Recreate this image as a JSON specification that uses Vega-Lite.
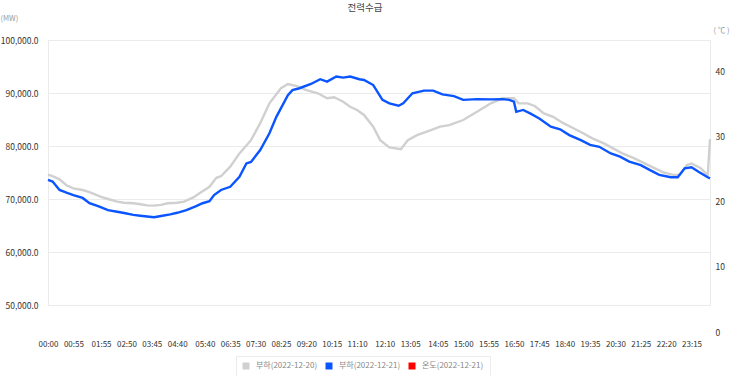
{
  "$schema": "https://vega.github.io/schema/vega-lite/v6.json",
  "width": 662,
  "height": 265,
  "autosize": "none",
  "padding": {"left": 48, "top": 40, "right": 20, "bottom": 71},
  "background": "#ffffff",
  "config": {
    "font": "Noto Sans CJK KR",
    "view": {"stroke": "#ebebeb", "strokeWidth": 1},
    "axis": {"labelFont": "Noto Sans CJK KR", "titleFont": "Noto Sans CJK KR"}
  },
  "title": {"text": "전력수급", "anchor": "middle", "frame": "group", "dx": -14, "offset": 1.5, "fontSize": 9.5, "fontWeight": "normal", "color": "#444444"},
  "datasets": {
    "load": [
      {"s": "부하(2022-12-20)", "m": 0, "load": 74600}, {"s": "부하(2022-12-20)", "m": 10, "load": 74300}, {"s": "부하(2022-12-20)", "m": 25, "load": 73700}, {"s": "부하(2022-12-20)", "m": 40, "load": 72600},
      {"s": "부하(2022-12-20)", "m": 55, "load": 72000}, {"s": "부하(2022-12-20)", "m": 75, "load": 71700}, {"s": "부하(2022-12-20)", "m": 90, "load": 71300}, {"s": "부하(2022-12-20)", "m": 115, "load": 70400},
      {"s": "부하(2022-12-20)", "m": 130, "load": 70000}, {"s": "부하(2022-12-20)", "m": 150, "load": 69500}, {"s": "부하(2022-12-20)", "m": 165, "load": 69300}, {"s": "부하(2022-12-20)", "m": 185, "load": 69200},
      {"s": "부하(2022-12-20)", "m": 200, "load": 69000}, {"s": "부하(2022-12-20)", "m": 215, "load": 68800}, {"s": "부하(2022-12-20)", "m": 230, "load": 68750}, {"s": "부하(2022-12-20)", "m": 245, "load": 68900},
      {"s": "부하(2022-12-20)", "m": 260, "load": 69200}, {"s": "부하(2022-12-20)", "m": 280, "load": 69300}, {"s": "부하(2022-12-20)", "m": 295, "load": 69500}, {"s": "부하(2022-12-20)", "m": 315, "load": 70300},
      {"s": "부하(2022-12-20)", "m": 330, "load": 71200}, {"s": "부하(2022-12-20)", "m": 350, "load": 72300}, {"s": "부하(2022-12-20)", "m": 365, "load": 74000}, {"s": "부하(2022-12-20)", "m": 375, "load": 74300},
      {"s": "부하(2022-12-20)", "m": 395, "load": 76100}, {"s": "부하(2022-12-20)", "m": 415, "load": 78600}, {"s": "부하(2022-12-20)", "m": 440, "load": 81100}, {"s": "부하(2022-12-20)", "m": 460, "load": 84300},
      {"s": "부하(2022-12-20)", "m": 480, "load": 88050}, {"s": "부하(2022-12-20)", "m": 505, "load": 90900}, {"s": "부하(2022-12-20)", "m": 520, "load": 91700}, {"s": "부하(2022-12-20)", "m": 540, "load": 91300},
      {"s": "부하(2022-12-20)", "m": 560, "load": 90550}, {"s": "부하(2022-12-20)", "m": 585, "load": 89950}, {"s": "부하(2022-12-20)", "m": 605, "load": 89000}, {"s": "부하(2022-12-20)", "m": 620, "load": 89200},
      {"s": "부하(2022-12-20)", "m": 640, "load": 88350}, {"s": "부하(2022-12-20)", "m": 655, "load": 87400}, {"s": "부하(2022-12-20)", "m": 670, "load": 86800}, {"s": "부하(2022-12-20)", "m": 685, "load": 85850},
      {"s": "부하(2022-12-20)", "m": 705, "load": 83650}, {"s": "부하(2022-12-20)", "m": 720, "load": 81100}, {"s": "부하(2022-12-20)", "m": 740, "load": 79750}, {"s": "부하(2022-12-20)", "m": 765, "load": 79400},
      {"s": "부하(2022-12-20)", "m": 780, "load": 81100}, {"s": "부하(2022-12-20)", "m": 800, "load": 82050}, {"s": "부하(2022-12-20)", "m": 830, "load": 83000}, {"s": "부하(2022-12-20)", "m": 850, "load": 83650},
      {"s": "부하(2022-12-20)", "m": 870, "load": 83950}, {"s": "부하(2022-12-20)", "m": 900, "load": 84900}, {"s": "부하(2022-12-20)", "m": 930, "load": 86450}, {"s": "부하(2022-12-20)", "m": 960, "load": 88050},
      {"s": "부하(2022-12-20)", "m": 985, "load": 89000}, {"s": "부하(2022-12-20)", "m": 1010, "load": 89000}, {"s": "부하(2022-12-20)", "m": 1020, "load": 88050}, {"s": "부하(2022-12-20)", "m": 1040, "load": 88050},
      {"s": "부하(2022-12-20)", "m": 1055, "load": 87550}, {"s": "부하(2022-12-20)", "m": 1075, "load": 86150}, {"s": "부하(2022-12-20)", "m": 1095, "load": 85500}, {"s": "부하(2022-12-20)", "m": 1115, "load": 84400},
      {"s": "부하(2022-12-20)", "m": 1140, "load": 83300}, {"s": "부하(2022-12-20)", "m": 1160, "load": 82400}, {"s": "부하(2022-12-20)", "m": 1180, "load": 81450}, {"s": "부하(2022-12-20)", "m": 1205, "load": 80500},
      {"s": "부하(2022-12-20)", "m": 1225, "load": 79550}, {"s": "부하(2022-12-20)", "m": 1245, "load": 78600}, {"s": "부하(2022-12-20)", "m": 1270, "load": 77700}, {"s": "부하(2022-12-20)", "m": 1290, "load": 76850},
      {"s": "부하(2022-12-20)", "m": 1310, "load": 76000}, {"s": "부하(2022-12-20)", "m": 1335, "load": 75000}, {"s": "부하(2022-12-20)", "m": 1355, "load": 74550}, {"s": "부하(2022-12-20)", "m": 1370, "load": 74550},
      {"s": "부하(2022-12-20)", "m": 1385, "load": 76400}, {"s": "부하(2022-12-20)", "m": 1395, "load": 76700}, {"s": "부하(2022-12-20)", "m": 1415, "load": 75800}, {"s": "부하(2022-12-20)", "m": 1430, "load": 74400},
      {"s": "부하(2022-12-20)", "m": 1435, "load": 81300},
      {"s": "부하(2022-12-21)", "m": 0, "load": 73600}, {"s": "부하(2022-12-21)", "m": 10, "load": 73300}, {"s": "부하(2022-12-21)", "m": 25, "load": 71700}, {"s": "부하(2022-12-21)", "m": 40, "load": 71200},
      {"s": "부하(2022-12-21)", "m": 55, "load": 70750}, {"s": "부하(2022-12-21)", "m": 75, "load": 70200}, {"s": "부하(2022-12-21)", "m": 90, "load": 69200}, {"s": "부하(2022-12-21)", "m": 110, "load": 68600},
      {"s": "부하(2022-12-21)", "m": 130, "load": 67900}, {"s": "부하(2022-12-21)", "m": 150, "load": 67600}, {"s": "부하(2022-12-21)", "m": 165, "load": 67350}, {"s": "부하(2022-12-21)", "m": 185, "load": 67000},
      {"s": "부하(2022-12-21)", "m": 200, "load": 66850}, {"s": "부하(2022-12-21)", "m": 215, "load": 66700}, {"s": "부하(2022-12-21)", "m": 230, "load": 66550}, {"s": "부하(2022-12-21)", "m": 245, "load": 66800},
      {"s": "부하(2022-12-21)", "m": 265, "load": 67100}, {"s": "부하(2022-12-21)", "m": 280, "load": 67400}, {"s": "부하(2022-12-21)", "m": 300, "load": 67900}, {"s": "부하(2022-12-21)", "m": 320, "load": 68600},
      {"s": "부하(2022-12-21)", "m": 335, "load": 69200}, {"s": "부하(2022-12-21)", "m": 350, "load": 69600}, {"s": "부하(2022-12-21)", "m": 360, "load": 70750}, {"s": "부하(2022-12-21)", "m": 375, "load": 71700},
      {"s": "부하(2022-12-21)", "m": 395, "load": 72300}, {"s": "부하(2022-12-21)", "m": 415, "load": 74200}, {"s": "부하(2022-12-21)", "m": 430, "load": 76700}, {"s": "부하(2022-12-21)", "m": 440, "load": 77000},
      {"s": "부하(2022-12-21)", "m": 460, "load": 79250}, {"s": "부하(2022-12-21)", "m": 480, "load": 82400}, {"s": "부하(2022-12-21)", "m": 495, "load": 85500}, {"s": "부하(2022-12-21)", "m": 520, "load": 89600},
      {"s": "부하(2022-12-21)", "m": 530, "load": 90550}, {"s": "부하(2022-12-21)", "m": 545, "load": 90900}, {"s": "부하(2022-12-21)", "m": 570, "load": 91700}, {"s": "부하(2022-12-21)", "m": 590, "load": 92600},
      {"s": "부하(2022-12-21)", "m": 605, "load": 92150}, {"s": "부하(2022-12-21)", "m": 625, "load": 93100}, {"s": "부하(2022-12-21)", "m": 640, "load": 92900}, {"s": "부하(2022-12-21)", "m": 655, "load": 93100},
      {"s": "부하(2022-12-21)", "m": 675, "load": 92600}, {"s": "부하(2022-12-21)", "m": 685, "load": 92450}, {"s": "부하(2022-12-21)", "m": 705, "load": 91500}, {"s": "부하(2022-12-21)", "m": 725, "load": 88700},
      {"s": "부하(2022-12-21)", "m": 740, "load": 88050}, {"s": "부하(2022-12-21)", "m": 760, "load": 87600}, {"s": "부하(2022-12-21)", "m": 770, "load": 88050}, {"s": "부하(2022-12-21)", "m": 790, "load": 89950},
      {"s": "부하(2022-12-21)", "m": 815, "load": 90450}, {"s": "부하(2022-12-21)", "m": 835, "load": 90450}, {"s": "부하(2022-12-21)", "m": 855, "load": 89750}, {"s": "부하(2022-12-21)", "m": 880, "load": 89400},
      {"s": "부하(2022-12-21)", "m": 900, "load": 88700}, {"s": "부하(2022-12-21)", "m": 930, "load": 88850}, {"s": "부하(2022-12-21)", "m": 960, "load": 88800}, {"s": "부하(2022-12-21)", "m": 985, "load": 88850},
      {"s": "부하(2022-12-21)", "m": 1000, "load": 88700}, {"s": "부하(2022-12-21)", "m": 1010, "load": 88350}, {"s": "부하(2022-12-21)", "m": 1015, "load": 86450}, {"s": "부하(2022-12-21)", "m": 1030, "load": 86800},
      {"s": "부하(2022-12-21)", "m": 1045, "load": 86150}, {"s": "부하(2022-12-21)", "m": 1065, "load": 85200}, {"s": "부하(2022-12-21)", "m": 1090, "load": 83650}, {"s": "부하(2022-12-21)", "m": 1110, "load": 83150},
      {"s": "부하(2022-12-21)", "m": 1130, "load": 82050}, {"s": "부하(2022-12-21)", "m": 1155, "load": 81100}, {"s": "부하(2022-12-21)", "m": 1175, "load": 80200}, {"s": "부하(2022-12-21)", "m": 1195, "load": 79850},
      {"s": "부하(2022-12-21)", "m": 1220, "load": 78600}, {"s": "부하(2022-12-21)", "m": 1240, "load": 78000}, {"s": "부하(2022-12-21)", "m": 1260, "load": 77050}, {"s": "부하(2022-12-21)", "m": 1285, "load": 76400},
      {"s": "부하(2022-12-21)", "m": 1305, "load": 75450}, {"s": "부하(2022-12-21)", "m": 1325, "load": 74550}, {"s": "부하(2022-12-21)", "m": 1350, "load": 74100}, {"s": "부하(2022-12-21)", "m": 1365, "load": 74100},
      {"s": "부하(2022-12-21)", "m": 1380, "load": 75800}, {"s": "부하(2022-12-21)", "m": 1395, "load": 76000}, {"s": "부하(2022-12-21)", "m": 1410, "load": 75150}, {"s": "부하(2022-12-21)", "m": 1430, "load": 74100},
      {"s": "부하(2022-12-21)", "m": 1435, "load": 73900}
    ],
    "temp": [
      {"m": 0, "temp": null}
    ]
  },
  "encoding": {
    "x": {"field": "m", "type": "quantitative", "scale": {"domain": [0, 1435], "nice": false, "zero": false},
      "axis": {"values": [0, 55, 115, 170, 225, 280, 340, 395, 450, 505, 560, 615, 670, 730, 785, 845, 900, 955, 1010, 1065, 1120, 1175, 1230, 1285, 1340, 1395],
        "labelExpr": "(floor(datum.value/60) < 10 ? '0' : '') + floor(datum.value/60) + ':' + (datum.value % 60 < 10 ? '0' : '') + (datum.value % 60)",
        "title": null, "grid": false, "domain": false, "ticks": false, "labelPadding": 35, "labelFontSize": 8, "labelColor": "#333333", "labelFlush": false, "labelOverlap": false}}
  },
  "layer": [
    {
      "data": {"name": "load"},
      "mark": {"type": "line", "strokeWidth": 2.4, "interpolate": "linear"},
      "encoding": {
        "y": {"field": "load", "type": "quantitative", "scale": {"domain": [50000, 100000], "nice": false, "zero": false},
          "axis": {"values": [50000, 60000, 70000, 80000, 90000, 100000], "format": ",.1f", "title": "(MW)", "titleAngle": 0, "titleAlign": "left", "titleBaseline": "middle", "titleX": -48, "titleY": -22, "titleFontSize": 7.5, "titleFontWeight": "normal", "titleColor": "#999999",
            "grid": true, "gridColor": "#ebebeb", "domain": false, "ticks": false, "labelPadding": 10, "labelFontSize": 8.5, "labelColor": "#333333"}},
        "color": {"field": "s", "type": "nominal",
          "scale": {"domain": ["부하(2022-12-20)", "부하(2022-12-21)", "온도(2022-12-21)"], "range": ["#d0d0d0", "#0a55ff", "#ff0000"]},
          "legend": {"title": null, "orient": "none", "legendX": 188, "legendY": 316, "direction": "horizontal", "symbolType": "square", "symbolSize": 49, "symbolStrokeWidth": 0, "labelFontSize": 8, "labelColor": "#888888", "labelOffset": 6, "columnPadding": 7, "strokeColor": "#ececec", "padding": 6,
            "encode": {"symbols": {"update": {"fill": {"scale": "color", "field": "value"}, "fillOpacity": {"value": 1}}}}}}
      }
    },
    {
      "data": {"name": "temp"},
      "mark": {"type": "line", "strokeWidth": 2},
      "encoding": {
        "y": {"field": "temp", "type": "quantitative", "scale": {"domain": [0, 44.92], "range": [292, 0], "nice": false, "zero": false},
          "axis": {"orient": "right", "values": [0, 10, 20, 30, 40], "title": "( ℃ )", "titleAngle": 0, "titleAlign": "left", "titleBaseline": "middle", "titleX": 3, "titleY": -10, "titleFontSize": 7.5, "titleFontWeight": "normal", "titleColor": "#999999",
            "grid": false, "domain": false, "ticks": false, "labelPadding": 5, "labelFontSize": 8.5, "labelColor": "#333333"}},
        "color": {"datum": "온도(2022-12-21)", "type": "nominal"}
      }
    }
  ],
  "resolve": {"scale": {"y": "independent"}}
}
